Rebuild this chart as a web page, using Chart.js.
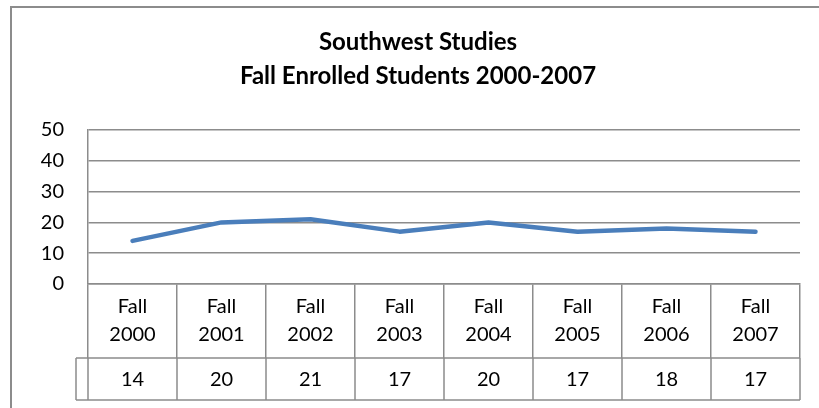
<!DOCTYPE html>
<html>
<head>
<meta charset="utf-8">
<title>Southwest Studies</title>
<script src="https://cdn.jsdelivr.net/npm/chart.js@4"></script>
<style>
  html, body { margin: 0; padding: 0; background: #fff; overflow: hidden; }
  #wrap { position: relative; width: 819px; height: 408px; overflow: hidden; }
  #frame {
    position: absolute; left: 10px; top: 6px; width: 860px; height: 460px;
    border-left: 2px solid #8c8c8c; border-top: 2px solid #8c8c8c;
  }
  canvas { position: absolute; left: 0; top: 0; }
</style>
</head>
<body>
<div id="wrap">
  <div id="frame"></div>
  <canvas id="lineChart" width="836" height="408"></canvas>
</div>
<script>
const titleLines = ["Southwest Studies", "Fall Enrolled Students 2000-2007"];
const terms = ["Fall 2000", "Fall 2001", "Fall 2002", "Fall 2003", "Fall 2004", "Fall 2005", "Fall 2006", "Fall 2007"];
const enrolled = [14, 20, 21, 17, 20, 17, 18, 17];
const yMin = 0;
const yMax = 50;
const yStep = 10;

const gridColor = "#8c8c8c";
const fontFamily = "Lato, 'Open Sans', sans-serif";

/* =========================
   DATA TABLE ROW UNDER THE AXIS
========================= */
const dataTable = {
  id: "dataTable",
  afterDraw(chart) {
    const { ctx, scales: { x } } = chart;
    const top = x.top + 74;
    const bottom = top + 42;
    const half = (x.getPixelForValue(1) - x.getPixelForValue(0)) / 2;
    const left = x.getPixelForValue(0) - half;
    const right = x.getPixelForValue(enrolled.length - 1) + half;
    const keyLeft = left - 12;

    ctx.save();
    ctx.strokeStyle = gridColor;
    ctx.lineWidth = 1.5;
    ctx.beginPath();
    ctx.moveTo(keyLeft, top); ctx.lineTo(right, top);
    ctx.moveTo(keyLeft, bottom); ctx.lineTo(right, bottom);
    ctx.moveTo(keyLeft, top); ctx.lineTo(keyLeft, bottom);
    for (let i = 0; i <= enrolled.length; i++) {
      const px = left + i * 2 * half;
      ctx.moveTo(px, top);
      ctx.lineTo(px, bottom);
    }
    ctx.stroke();

    ctx.fillStyle = "#000";
    ctx.font = "20px " + fontFamily;
    ctx.textAlign = "center";
    ctx.textBaseline = "middle";
    enrolled.forEach((v, i) => {
      ctx.fillText(String(v), x.getPixelForValue(i), (top + bottom) / 2 + 1);
    });
    ctx.restore();
  },
};

Chart.defaults.font.family = fontFamily;

const ctx = document.getElementById("lineChart").getContext("2d");
new Chart(ctx, {
  type: "line",
  data: {
    labels: terms.map((t) => t.split(" ")),
    datasets: [
      {
        label: "Enrolled",
        data: enrolled,
        borderColor: "#4a7ebb",
        borderWidth: 4.5,
        pointRadius: 0,
        tension: 0,
        borderJoinStyle: "round",
        borderCapStyle: "round",
        fill: false,
      },
    ],
  },
  options: {
    responsive: false,
    animation: false,
    devicePixelRatio: 1,
    layout: { padding: 0 },
    plugins: {
      legend: { display: false },
      tooltip: { enabled: false },
      title: {
        display: true,
        text: titleLines,
        color: "#000",
        font: { size: 24, weight: "bold", lineHeight: "34px" },
        padding: { top: 25, bottom: 37 },
      },
    },
    scales: {
      x: {
        offset: true,
        grid: {
          offset: true,
          drawOnChartArea: false,
          drawTicks: true,
          tickLength: 74,
          color: gridColor,
          lineWidth: 1.5,
        },
        border: { display: true, color: gridColor, width: 1.5 },
        ticks: {
          color: "#000",
          font: { size: 20, lineHeight: "28px" },
          padding: -65,
          maxRotation: 0,
          autoSkip: false,
        },
        afterFit(scale) {
          scale.height = 124;
        },
      },
      y: {
        min: yMin,
        max: yMax,
        grid: { color: gridColor, lineWidth: 1.5, drawTicks: false },
        border: { display: true, color: gridColor, width: 1.5 },
        ticks: {
          stepSize: yStep,
          color: "#000",
          font: { size: 20 },
          padding: 24,
        },
        afterFit(scale) {
          scale.width = 88;
        },
      },
      // empty right-hand margin inside the chart frame
      yRight: {
        position: "right",
        grid: { display: false },
        border: { display: false },
        ticks: { display: false },
        afterFit(scale) {
          scale.width = 36;
        },
      },
    },
  },
  plugins: [dataTable],
});
</script>
</body>
</html>
